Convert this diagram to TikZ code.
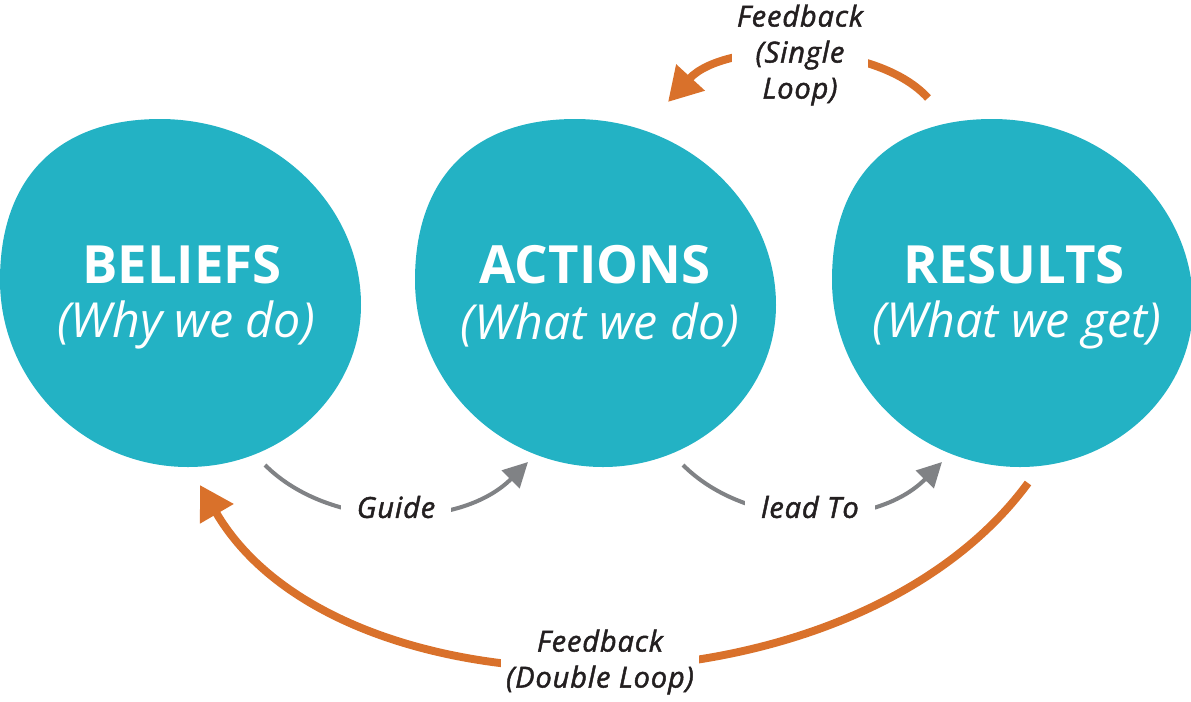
\documentclass[tikz,border=0pt]{standalone}
\usepackage{fontspec}
\setmainfont{Open Sans}
\newfontfamily\labfont[LetterSpace=3,ItalicFeatures={FakeBold=1.6}]{Open Sans}
\usetikzlibrary{arrows.meta}
\definecolor{blobteal}{HTML}{23B2C4}
\definecolor{fbor}{HTML}{D9712B}
\definecolor{arrgray}{HTML}{808285}
\definecolor{txtdark}{HTML}{231F20}
\tikzset{
  titletext/.style={text=white,inner sep=0pt,font=\fontsize{30}{34}\selectfont\bfseries},
  subtext/.style={text=white,inner sep=0pt,font=\fontsize{27.5}{32}\selectfont\itshape},
  lab/.style={text=txtdark,fill=white,inner sep=3pt,align=center,font=\labfont\fontsize{16.5}{20.5}\selectfont\itshape},
  graylab/.style={lab,inner xsep=9pt},
  grayarr/.style={draw=arrgray,line width=2.3pt,-{Triangle[length=14pt,width=14pt]}},
  orarr/.style={draw=fbor,line width=4.5pt,-{Triangle[length=19pt,width=21pt]}}
}
\begin{document}
\begin{tikzpicture}[x=0.02cm,y=-0.02cm]
\useasboundingbox (0,0) rectangle (1191,701);
\foreach \s in {0,415,832}{
  \fill[blobteal,shift={(\s,0)}] (160,119) .. controls (271,119) and (361,203) .. (361,305)
     .. controls (361,394) and (283,467) .. (188,467)
     .. controls (85,467) and (0,383) .. (0,280)
     .. controls (0,178) and (58,119) .. (160,119) -- cycle;
}
% titles
\node[titletext] (beliefsT) at (182,265) {BELIEFS};
\node[subtext] (beliefsS) at (186,325) {(Why we do)};
\node[titletext] (actionsT) at (595,265) {ACTIONS};
\node[subtext] (actionsS) at (600,325) {(What we do)};
\node[titletext] (resultsT) at (1014,265) {RESULTS};
\node[subtext] (resultsS) at (1017,325) {(What we get)};
% connector end points
\coordinate (g1) at (265,465);
\coordinate (g2) at (528,462);
\coordinate (l1) at (683,465);
\coordinate (l2) at (942,462);
\coordinate (s1) at (928,98);
\coordinate (s2) at (668,102);
\coordinate (d1) at (1028,483);
\coordinate (d2) at (200,485);
% connectors
\draw[grayarr] (g1) .. controls (330,530) and (460,530) .. (g2);
\draw[grayarr] (l1) .. controls (748,530) and (875,530) .. (l2);
\draw[orarr] (s1) .. controls (875,40) and (725,40) .. (s2);
\draw[orarr] (d1) .. controls (850,725) and (340,725) .. (d2);
% labels
\node[graylab] (guide) at (396,507) {Guide};
\node[graylab] (leadto) at (810,507) {lead To};
\node[lab] (single) at (800,55) {Feedback\\(Single\\Loop)};
\node[lab] (double) at (600,662) {Feedback\\(Double Loop)};
\end{tikzpicture}
\end{document}
